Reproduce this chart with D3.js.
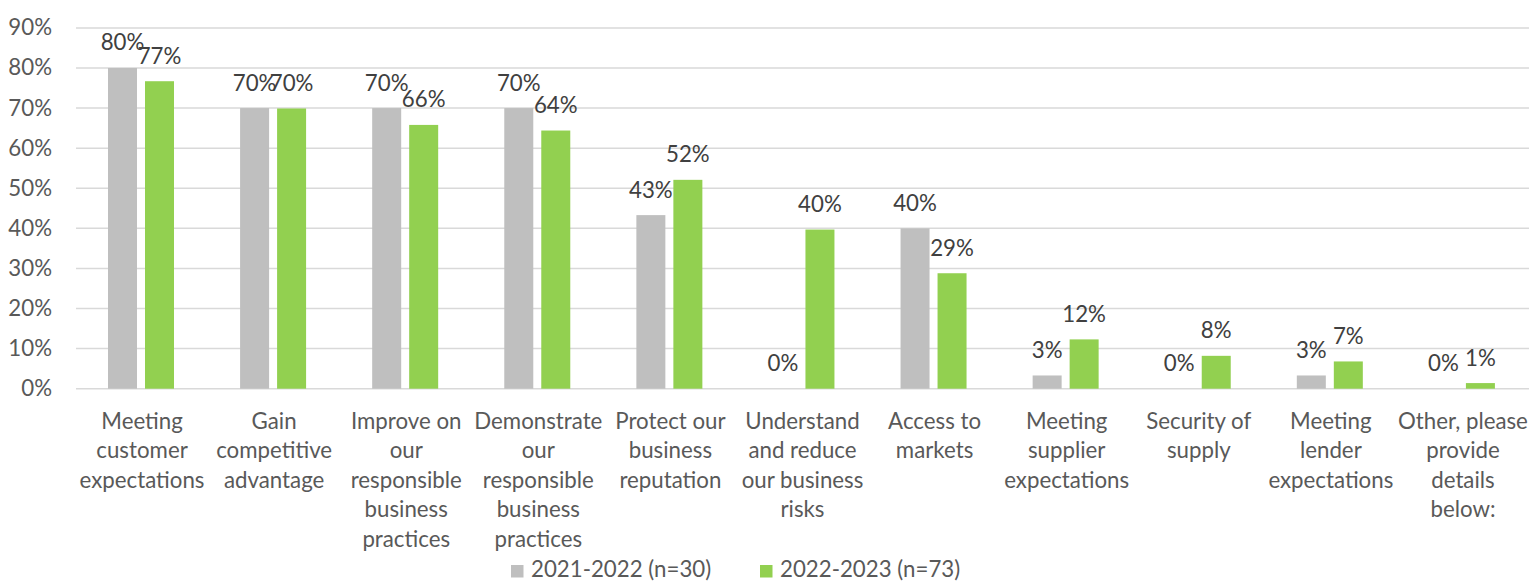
<!DOCTYPE html>
<html><head><meta charset="utf-8">
<script src="https://cdn.jsdelivr.net/npm/d3@7"></script>
<style>html,body{margin:0;padding:0;background:#fff;}svg{display:block;}</style>
</head><body>
<svg id="c" width="1537" height="588"></svg>
<script>
const categories = [
  ["Meeting","customer","expectations"],
  ["Gain","competitive","advantage"],
  ["Improve on","our","responsible","business","practices"],
  ["Demonstrate","our","responsible","business","practices"],
  ["Protect our","business","reputation"],
  ["Understand","and reduce","our business","risks"],
  ["Access to","markets"],
  ["Meeting","supplier","expectations"],
  ["Security of","supply"],
  ["Meeting","lender","expectations"],
  ["Other, please","provide","details","below:"]
];
const series2122 = [80.0, 70.0, 70.0, 70.0, 43.3, 0, 40.0, 3.3, 0, 3.3, 0];
const series2223 = [76.7, 69.9, 65.8, 64.4, 52.1, 39.7, 28.8, 12.3, 8.2, 6.8, 1.4];
const seriesNames = ["2021-2022 (n=30)", "2022-2023 (n=73)"];
const yTicks = [0,10,20,30,40,50,60,70,80,90];

const colors = ["#bfbfbf", "#92d050"];
const FONT = "Lato, 'Open Sans', sans-serif";
const svg = d3.select("#c");

const probe = svg.append("text").attr("font-family", FONT).attr("font-size", 22).text("expectations");
const w = probe.node().getComputedTextLength();
probe.remove();
const fs = 22 * 125 / w;

const x = d3.scaleBand().domain(d3.range(categories.length)).range([76,1529]).paddingInner(0).paddingOuter(0);
const x1 = d3.scaleBand().domain([0,1]).range([32, 98]).paddingOuter(0).paddingInner(8/37);
const y = d3.scaleLinear().domain([0,90]).range([388.7, 27.9]);

svg.append("g").selectAll("line").data(yTicks).join("line")
  .attr("x1",76).attr("x2",1529)
  .attr("y1",d=>y(d)).attr("y2",d=>y(d))
  .attr("stroke","#d9d9d9").attr("stroke-width",1.5);

svg.append("g").selectAll("text").data(yTicks).join("text")
  .attr("x",52).attr("y",d=>y(d)+7.5)
  .attr("text-anchor","end").attr("font-family",FONT).attr("font-size",fs)
  .attr("fill","#595959").text(d=>d+"%");

const data = [series2122, series2223];
const g = svg.append("g");
data.forEach((s,si)=>{
  g.selectAll(".b"+si).data(s).join("rect")
    .attr("x",(d,i)=>x(i)+x1(si)).attr("width",x1.bandwidth())
    .attr("y",d=>y(d)).attr("height",d=>y(0)-y(d))
    .attr("fill",colors[si]);
  g.selectAll(".l"+si).data(s).join("text")
    .attr("x",(d,i)=>x(i)+x1(si)+x1.bandwidth()/2)
    .attr("y",d=>y(d)-17.5)
    .attr("text-anchor","middle").attr("font-family",FONT).attr("font-size",fs)
    .attr("fill","#404040").text(d=>Math.round(d)+"%");
});

const xl = svg.append("g");
categories.forEach((lines,i)=>{
  const t = xl.append("text").attr("text-anchor","middle").attr("font-family",FONT)
    .attr("font-size",fs).attr("fill","#595959");
  lines.forEach((ln,j)=>{
    t.append("tspan").attr("x",x(i)+x.bandwidth()/2).attr("y",428.5+j*29.6).text(ln);
  });
});

const leg = svg.append("g");
const legX = [511, 760];
seriesNames.forEach((n,i)=>{
  leg.append("rect").attr("x",legX[i]).attr("y",565).attr("width",12.5).attr("height",12.5).attr("fill",colors[i]);
  leg.append("text").attr("x",legX[i]+20).attr("y",577).attr("font-family",FONT).attr("font-size",fs)
    .attr("fill","#595959").text(n);
});
</script>
</body></html>
